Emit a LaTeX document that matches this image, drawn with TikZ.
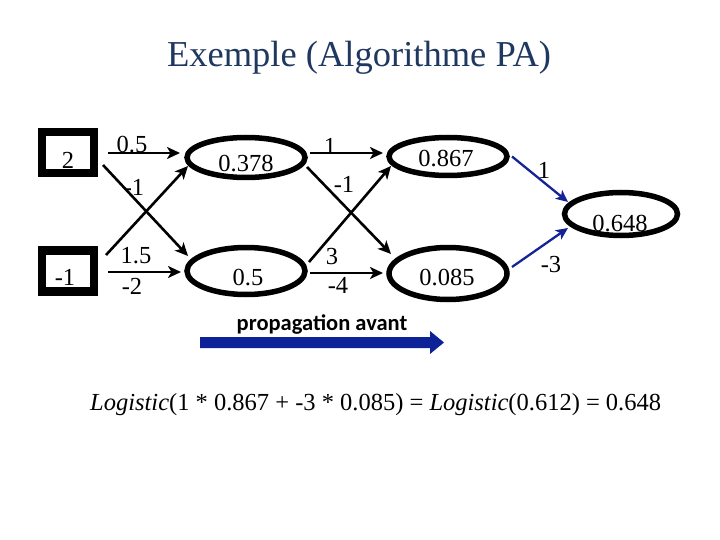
\documentclass[tikz,border=0pt]{standalone}
\usepackage{fontspec}
\setmainfont{Liberation Serif}
\newfontfamily\calib{Carlito}
\usetikzlibrary{arrows.meta,shapes.geometric}
\definecolor{titleblue}{RGB}{31,56,96}
\definecolor{linkblue}{RGB}{20,36,150}
\definecolor{bigblue}{RGB}{12,34,150}
\tikzset{
  inbox/.style={draw, line width=8.5pt, minimum width=52pt, minimum height=41pt, inner sep=0pt},
  neuron/.style={draw, ellipse, line width=5.5pt, minimum width=118pt, inner sep=0pt},
  val/.style={font=\fontsize{24.5}{24.5}\selectfont, inner sep=0pt},
  wlab/.style={font=\fontsize{24.5}{24.5}\selectfont, inner sep=0pt},
  link/.style={line width=2.6pt, -{Stealth[length=13pt,width=12pt,inset=3.5pt]}},
  bluelink/.style={line width=2.3pt, draw=linkblue, -{Stealth[length=12pt,width=11pt,inset=3pt]}, color=linkblue}
}
\begin{document}
\begin{tikzpicture}[x=1pt,y=-1pt]
\useasboundingbox (0,0) rectangle (720,540);
\node[font=\fontsize{36.5}{36.5}\selectfont, text=titleblue, anchor=base] (title) at (359,67) {Exemple (Algorithme PA)};
% input boxes
\node[inbox] (i1) at (68,152.5) {};
\node[inbox] (i2) at (68,271) {};
\node[val] (i1t) at (68,160) {2};
\node[val] (i2t) at (65,277) {-1};
% hidden layer 1
\node[neuron, minimum height=40pt] (h1) at (246,157.5) {};
\node[neuron, minimum height=47pt] (h2) at (246,271) {};
% hidden layer 2
\node[neuron, minimum height=38pt] (g1) at (448,156.5) {};
\node[neuron, minimum height=52pt] (g2) at (448,273.5) {};
% output
\node[neuron, minimum width=113pt, minimum height=43pt] (o) at (621,214) {};
\node[val] (h1t) at (246,163.5) {0.378};
\node[val] (h2t) at (248,278) {0.5};
\node[val] (g1t) at (446,159) {0.867};
\node[val] (g2t) at (447,278) {0.085};
\node[val] (ot) at (620,224) {0.648};
% connectors layer 1
\draw[link] ([shift={(40,0.5)}]i1.center) -- ([shift={(-66,-4.5)}]h1.center);
\draw[link] ([shift={(35,12.5)}]i1.center) -- ([shift={(-58,-15)}]h2.center);
\draw[link] ([shift={(38,-16)}]i2.center) -- ([shift={(-58,8.5)}]h1.center);
\draw[link] ([shift={(40,1)}]i2.center) -- ([shift={(-65,1)}]h2.center);
% connectors layer 2
\draw[link] ([shift={(64,-4.5)}]h1.center) -- ([shift={(-65,-3.5)}]g1.center);
\draw[link] ([shift={(61,9.5)}]h1.center) -- ([shift={(-57,-19.5)}]g2.center);
\draw[link] ([shift={(63,-9)}]h2.center) -- ([shift={(-57,9.5)}]g1.center);
\draw[link] ([shift={(64,2)}]h2.center) -- ([shift={(-65,-0.5)}]g2.center);
% output connectors
\draw[bluelink] ([shift={(64,0)}]g1.center) -- ([shift={(-53,-12)}]o.center);
\draw[bluelink] ([shift={(64,-6.5)}]g2.center) -- ([shift={(-53,14)}]o.center);
% weight labels
\node[wlab] (w1) at (132,145) {0.5};
\node[wlab] (w2) at (134,187) {-1};
\node[wlab] (w3) at (136,256) {1.5};
\node[wlab] (w4) at (132,286) {-2};
\node[wlab] (w5) at (330,146) {1};
\node[wlab] (w6) at (344,184) {-1};
\node[wlab] (w7) at (332,257) {3};
\node[wlab] (w8) at (338,285) {-4};
\node[wlab] (w9) at (544,170) {1};
\node[wlab] (w10) at (551,265) {-3};
% forward propagation arrow
\node[font=\calib\bfseries\fontsize{22.5}{22.5}\selectfont, anchor=base, inner sep=0pt] (prop) at (322,330) {propagation avant};
\fill[bigblue] (200,337) -- (430,337) -- (430,331) -- (444,342.5) -- (430,354) -- (430,348) -- (200,348) -- cycle;
% equation
\node[font=\fontsize{24.5}{24.5}\selectfont, anchor=base west, inner sep=0pt] (eq) at (90,410) {\textit{Logistic}(1 * 0.867 + -3 * 0.085) = \textit{Logistic}(0.612) = 0.648};
\end{tikzpicture}
\end{document}
